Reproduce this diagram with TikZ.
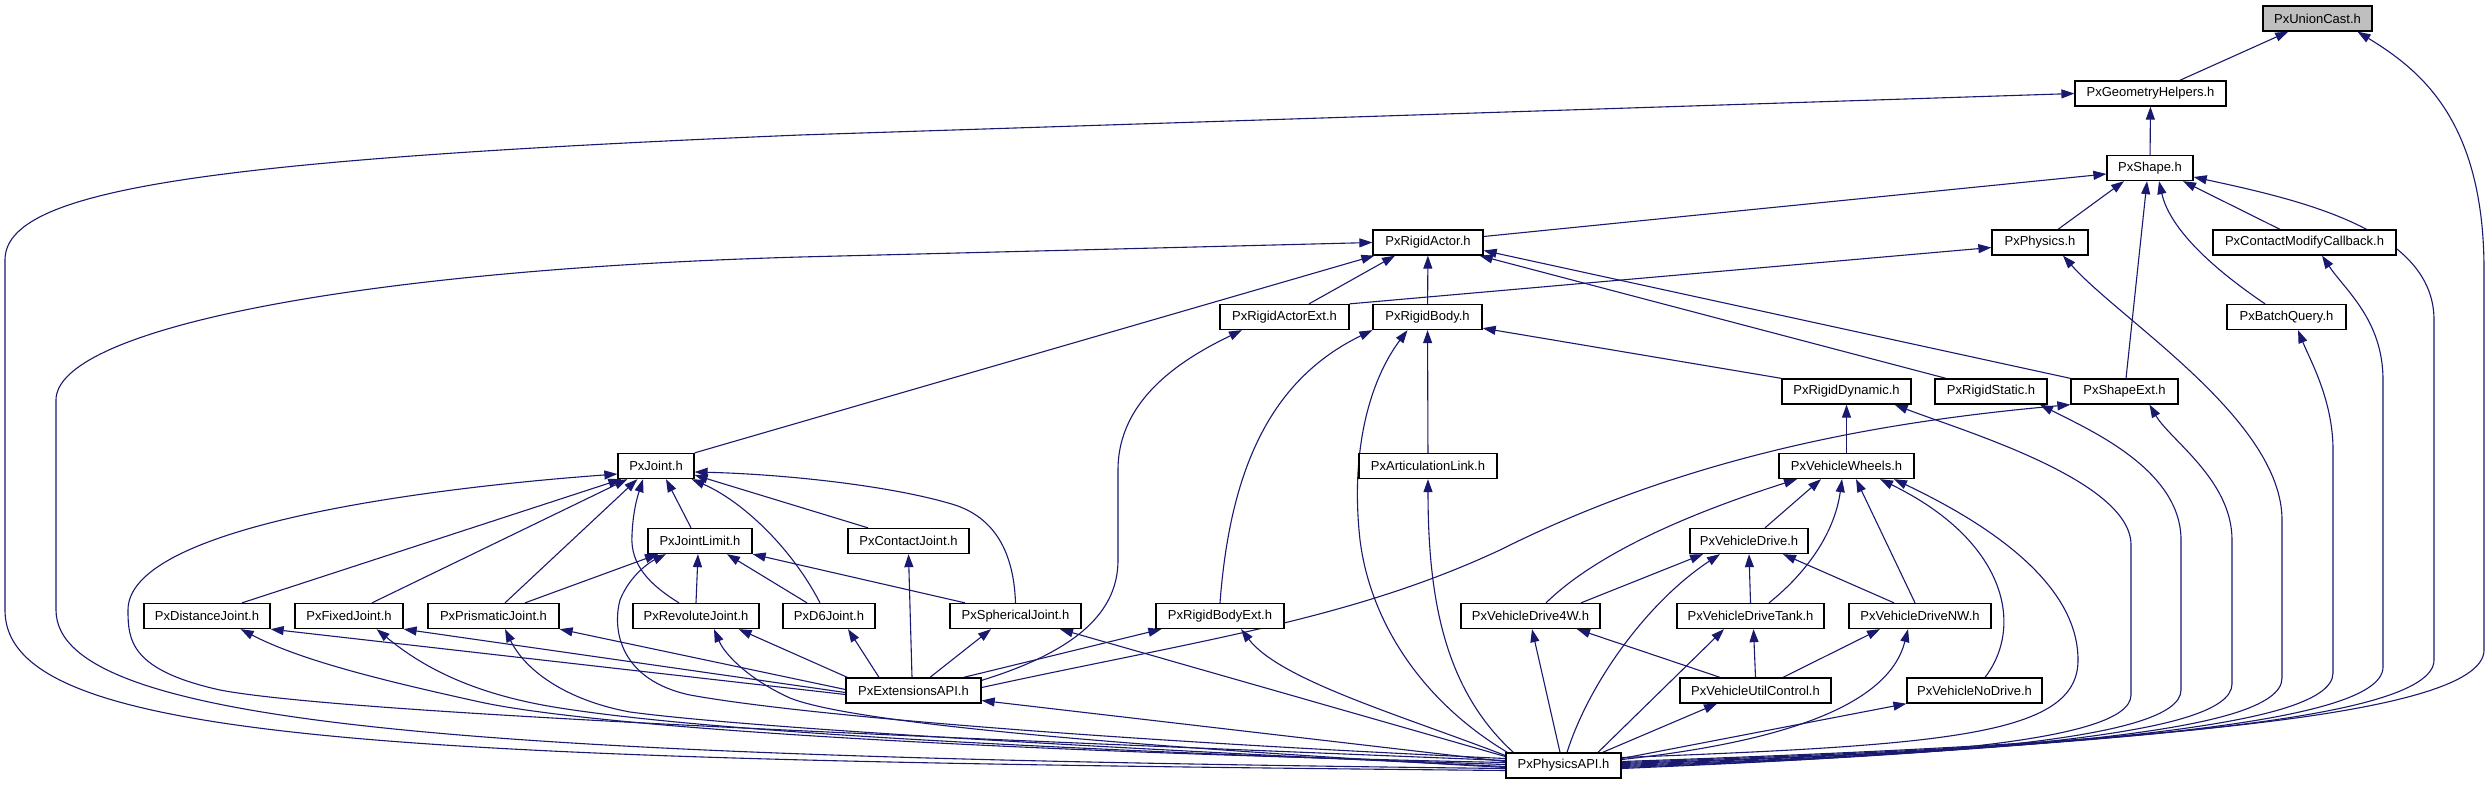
\documentclass[tikz,border=0pt]{standalone}
\usepackage{fontspec}
\setmainfont{Liberation Sans}
\usetikzlibrary{arrows.meta,calc}
\definecolor{edgecol}{RGB}{25,25,112}
\definecolor{ucfill}{RGB}{191,191,191}
\pgfdeclarelayer{bg}
\pgfdeclarelayer{paper}
\pgfsetlayers{paper,bg,main}
\begin{document}
\begin{tikzpicture}[x=1pt,y=-1pt,
  box/.style={draw=black, line width=1.3pt, fill=white, minimum height=25pt, inner sep=0pt, font=\fontsize{13}{15}\selectfont},
  edge/.style={draw=edgecol, line width=1.1pt, -{Triangle[length=13pt,width=9pt]}}]
\begin{pgfonlayer}{paper}
\fill[white] (0,0) rectangle (2491,784);
\end{pgfonlayer}
\useasboundingbox (0,0) rectangle (2491,784);
% rank 0-2
\node[box, minimum width=109pt, fill=ucfill] (uc) at (2317.5,18.5) {PxUnionCast.h};
\node[box, minimum width=151pt] (gh) at (2150.5,93.5) {PxGeometryHelpers.h};
\node[box, minimum width=86pt] (sh) at (2150,168) {PxShape.h};
% rank 3
\node[box, minimum width=110pt] (ra) at (1428,242.5) {PxRigidActor.h};
\node[box, minimum width=96pt] (ph) at (2040,242.5) {PxPhysics.h};
\node[box, minimum width=183pt] (cmc) at (2304.5,242.5) {PxContactModifyCallback.h};
% rank 4
\node[box, minimum width=129pt] (rae) at (1284.5,317) {PxRigidActorExt.h};
\node[box, minimum width=109pt] (rb) at (1427.5,317) {PxRigidBody.h};
\node[box, minimum width=119pt] (bq) at (2286.5,317) {PxBatchQuery.h};
% rank 5
\node[box, minimum width=129pt] (rd) at (1846.5,391.5) {PxRigidDynamic.h};
\node[box, minimum width=112pt] (rs) at (1991,391.5) {PxRigidStatic.h};
\node[box, minimum width=107pt] (se) at (2124.5,391.5) {PxShapeExt.h};
% rank 6
\node[box, minimum width=76pt] (jt) at (656,466) {PxJoint.h};
\node[box, minimum width=138pt] (al) at (1428,466) {PxArticulationLink.h};
\node[box, minimum width=135pt] (vw) at (1846.5,466) {PxVehicleWheels.h};
% rank 7
\node[box, minimum width=104pt] (jl) at (700,541) {PxJointLimit.h};
\node[box, minimum width=121pt] (cj) at (908.5,541) {PxContactJoint.h};
\node[box, minimum width=118pt] (vd) at (1749,541) {PxVehicleDrive.h};
% rank 8
\node[box, minimum width=126pt] (dj) at (207,616) {PxDistanceJoint.h};
\node[box, minimum width=108pt] (fj) at (349,616) {PxFixedJoint.h};
\node[box, minimum width=131pt] (pj) at (493.5,616) {PxPrismaticJoint.h};
\node[box, minimum width=126pt] (rj) at (696,616) {PxRevoluteJoint.h};
\node[box, minimum width=92pt] (d6) at (829,616) {PxD6Joint.h};
\node[box, minimum width=131pt] (sj) at (1015.5,616) {PxSphericalJoint.h};
\node[box, minimum width=128pt] (rbe) at (1220,616) {PxRigidBodyExt.h};
\node[box, minimum width=139pt] (vd4) at (1530.5,616) {PxVehicleDrive4W.h};
\node[box, minimum width=147pt] (vdt) at (1750.5,616) {PxVehicleDriveTank.h};
\node[box, minimum width=142pt] (vdn) at (1920,616) {PxVehicleDriveNW.h};
% rank 9
\node[box, minimum width=135pt] (ext) at (913.5,690.5) {PxExtensionsAPI.h};
\node[box, minimum width=151pt] (vuc) at (1755.5,690.5) {PxVehicleUtilControl.h};
\node[box, minimum width=135pt] (vnd) at (1974.5,690.5) {PxVehicleNoDrive.h};
% rank 10
\node[box, minimum width=115pt] (api) at (1563.5,765.5) {PxPhysicsAPI.h};

\begin{pgfonlayer}{bg}
% upper part
\draw[edge] (gh) -- (uc);
\draw[edge] (sh) -- (gh);
\draw[edge] ($(ra.east)+(0,-6)$) -- ($(sh.west)+(0,6)$);
\draw[edge] ($(ph.north)+(18,0)$) -- ($(sh.south)+(-26,0)$);
\draw[edge] ($(se.north)+(1.5,0)$) -- ($(sh.south)+(-3,0)$);
\draw[edge] ($(bq.north)+(-21.5,0)$) .. controls (2215,270) and (2170,230) .. ($(sh.south)+(9,0)$);
\draw[edge] ($(cmc.north)+(-24.5,0)$) -- ($(sh.south)+(33,0)$);
\draw[edge] (jt.north east) -- ($(ra.south west)+(2,0)$);
\draw[edge] ($(rae.north)+(24.5,0)$) -- ($(ra.south)+(-33,0)$);
\draw[edge] (rb) -- (ra);
\draw[edge] ($(rs.north)+(-45,0)$) -- ($(ra.south east)+(-4,0)$);
\draw[edge] (se.north west) -- ($(ra.east)+(0,8)$);
\draw[edge] (rbe.north) .. controls (1230,470) and (1270,380) .. (rb.south west);
\draw[edge] (al) -- (rb);
\draw[edge] (rd.north west) -- ($(rb.south east)+(0,-2)$);
\draw[edge] ($(ext.north east)+(0,3)$) .. controls (1080,650) and (1118,610) .. (1118,560) -- (1118,470) .. controls (1118,400) and (1180,360) .. ($(rae.south)+(-42.5,0)$);
\draw[edge] (rae.north east) -- ($(ph.west)+(0,5)$);
\draw[edge] (vw) -- (rd);
\draw[edge] ($(ext.east)+(0,-3)$) .. controls (1200,640) and (1350,620) .. (1500,550) .. controls (1700,450) and (1900,420) .. (se.south west);
% extensions
\draw[edge] ($(ext.north)+(-1.5,0)$) -- (cj.south);
\draw[edge] ($(ext.north)+(-34.5,0)$) -- ($(d6.south)+(19,0)$);
\draw[edge] ($(ext.north)+(16.5,0)$) -- ($(sj.south)+(-24.5,0)$);
\draw[edge] ($(ext.north east)+(-18,0)$) -- ($(rbe.south west)+(6,0)$);
\draw[edge] ($(ext.west)+(0,4)$) -- (dj.south east);
\draw[edge] ($(ext.west)+(0,2)$) -- (fj.south east);
\draw[edge] ($(ext.west)+(0,-1)$) -- (pj.south east);
\draw[edge] ($(ext.north west)+(2,0)$) -- ($(rj.south east)+(-21,0)$);
% joints
\draw[edge] ($(dj.north)+(35,0)$) -- ($(jt.south west)+(4,0)$);
\draw[edge] ($(fj.north)+(23,0)$) -- ($(jt.south west)+(10,0)$);
\draw[edge] ($(pj.north)+(11.5,0)$) -- ($(jt.south west)+(20,0)$);
\draw[edge] ($(rj.north)+(-17,0)$) .. controls (650,585) and (630,565) .. (632,535) .. controls (633,510) and (638,495) .. ($(jt.south)+(-13,0)$);
\draw[edge] ($(jl.north)+(-9,0)$) -- ($(jt.south)+(10,0)$);
\draw[edge] ($(d6.north)+(-9,0)$) .. controls (790,545) and (740,500) .. ($(jt.south east)+(-3,0)$);
\draw[edge] ($(cj.north)+(-40.5,0)$) -- ($(jt.east)+(0,9)$);
\draw[edge] (sj.north) .. controls (1014,560) and (1000,520) .. (955,505) .. controls (890,485) and (780,474) .. ($(jt.east)+(0,6)$);
\draw[edge] ($(pj.north)+(31.5,0)$) -- ($(jl.south)+(-42,0)$);
\draw[edge] (rj.north) -- ($(jl.south)+(-2,0)$);
\draw[edge] ($(d6.north)+(-22,0)$) -- ($(jl.south)+(27,0)$);
\draw[edge] ($(sj.north)+(-50.5,0)$) -- (jl.south east);
% vehicles
\draw[edge] ($(vd4.north)+(15.5,0)$) .. controls (1600,550) and (1700,510) .. ($(vw.south)+(-49.5,0)$);
\draw[edge] ($(vd.north)+(16,0)$) -- ($(vw.south)+(-25.5,0)$);
\draw[edge] ($(vdt.north)+(18.5,0)$) .. controls (1810,570) and (1835,530) .. ($(vw.south)+(-4.5,0)$);
\draw[edge] ($(vdn.north)+(-5,0)$) -- ($(vw.south)+(9.5,0)$);
\draw[edge] ($(vnd.north)+(10.5,0)$) .. controls (2025,625) and (2005,540) .. ($(vw.south)+(33.5,0)$);
\draw[edge] ($(vd4.north)+(50.5,0)$) -- ($(vd.south)+(-46,0)$);
\draw[edge] (vdt.north) -- (vd.south);
\draw[edge] ($(vdn.north)+(-26,0)$) -- ($(vd.south)+(34,0)$);
\draw[edge] ($(vuc.north)+(-35.5,0)$) -- ($(vd4.south)+(46.5,0)$);
\draw[edge] (vuc.north) -- ($(vdt.south)+(3,0)$);
\draw[edge] ($(vuc.north)+(27.5,0)$) -- ($(vdn.south)+(-40,0)$);
% from PxPhysicsAPI, right bundle
\draw[edge] ($(api.east)+(0,3)$) .. controls (1880,757) and (2131,745) .. (2131,695) -- (2131,545) .. controls (2131,480) and (1960,430) .. ($(rd.south east)+(-17,0)$);
\draw[edge] ($(api.east)+(0,2)$) .. controls (1920,756) and (2181,742) .. (2181,690) -- (2181,540) .. controls (2181,470) and (2090,430) .. ($(rs.south)+(49,0)$);
\draw[edge] ($(api.east)+(0,1)$) .. controls (1960,754) and (2232,738) .. (2232,684) -- (2232,540) .. controls (2232,480) and (2170,440) .. ($(se.south)+(25,0)$);
\draw[edge] (api.east) .. controls (2000,752) and (2282,735) .. (2282,678) -- (2282,520) .. controls (2282,420) and (2120,320) .. ($(ph.south)+(23,0)$);
\draw[edge] ($(api.east)+(0,-1)$) .. controls (2020,750) and (2333,732) .. (2333,673) -- (2333,450) .. controls (2333,400) and (2310,360) .. ($(bq.south)+(11.5,0)$);
\draw[edge] ($(api.east)+(0,-2)$) .. controls (2050,749) and (2383,728) .. (2383,667) -- (2383,380) .. controls (2383,320) and (2345,290) .. ($(cmc.south)+(17.5,0)$);
\draw[edge] ($(api.east)+(0,-3)$) .. controls (2075,747) and (2434,724) .. (2434,660) -- (2434,320) .. controls (2434,230) and (2300,200) .. ($(sh.east)+(0,9)$);
\draw[edge] ($(api.east)+(0,-4)$) .. controls (2100,745) and (2484,720) .. (2484,650) -- (2484,270) .. controls (2484,120) and (2420,70) .. ($(uc.south)+(40,0)$);
% from PxPhysicsAPI, left side
\draw[edge] ($(api.west)+(0,5)$) .. controls (400,760) and (5,745) .. (5,610) -- (5,260) .. controls (5,190) and (200,160) .. (800,135) -- (gh.west);
\draw[edge] ($(api.west)+(0,3)$) .. controls (500,757) and (56,730) .. (56,610) -- (56,400) .. controls (56,330) and (350,270) .. (800,257) -- (ra.west);
\draw[edge] ($(api.west)+(0,-5)$) .. controls (1000,740) and (350,715) .. (220,690) .. controls (130,670) and (128,640) .. (128,610) .. controls (128,530) and (400,490) .. ($(jt.west)+(0,8)$);
\draw[edge] ($(api.west)+(0,-7)$) .. controls (1100,740) and (800,715) .. (690,695) .. controls (620,680) and (612,630) .. (620,600) .. controls (630,575) and (650,562) .. ($(jl.south)+(-34,0)$);
\draw[edge] ($(api.west)+(0,-3)$) .. controls (1000,752) and (600,728) .. (480,702) .. controls (380,680) and (300,660) .. ($(dj.south east)+(-30,0)$);
\draw[edge] ($(api.west)+(0,-1)$) .. controls (1000,748) and (700,730) .. (560,708) .. controls (470,694) and (420,665) .. ($(fj.south east)+(-27,0)$);
\draw[edge] ($(api.west)+(0,1)$) .. controls (1100,748) and (750,728) .. (630,712) .. controls (565,700) and (525,670) .. ($(pj.south)+(11.5,0)$);
\draw[edge] ($(api.west)+(0,2)$) .. controls (1100,745) and (850,722) .. (790,698) .. controls (750,680) and (725,655) .. ($(rj.south)+(18,0)$);
\draw[edge] ($(api.west)+(0,-9)$) -- ($(sj.south)+(44.5,0)$);
\draw[edge] ($(api.west)+(0,-10)$) .. controls (1400,715) and (1280,680) .. ($(rbe.south)+(21,0)$);
\draw[edge] ($(api.west)+(0,-4)$) -- ($(ext.east)+(0,10)$);
\draw[edge] ($(api.north west)+(2,0)$) .. controls (1420,700) and (1370,620) .. (1360,540) .. controls (1350,450) and (1370,380) .. ($(rb.south)+(-20,0)$);
\draw[edge] ($(api.north west)+(8,0)$) .. controls (1445,690) and (1428,600) .. (al.south);
% from PxPhysicsAPI, vehicles
\draw[edge] ($(api.east)+(0,-8)$) .. controls (1950,745) and (2078,735) .. (2078,660) .. controls (2078,580) and (1980,520) .. ($(vw.south)+(47.5,0)$);
\draw[edge] ($(api.north)+(3.5,0)$) .. controls (1590,680) and (1650,600) .. ($(vd.south)+(-29,0)$);
\draw[edge] ($(api.north)+(-3.5,0)$) -- ($(vd4.south)+(1.5,0)$);
\draw[edge] ($(api.north)+(34.5,0)$) -- ($(vdt.south)+(-26.5,0)$);
\draw[edge] ($(api.east)+(0,-6)$) .. controls (1800,740) and (1890,700) .. ($(vdn.south)+(-12,0)$);
\draw[edge] ($(api.north east)+(-19,0)$) -- ($(vuc.south)+(-38.5,0)$);
\draw[edge] ($(api.east)+(0,-7)$) -- (vnd.south west);
\end{pgfonlayer}
\end{tikzpicture}
\end{document}
